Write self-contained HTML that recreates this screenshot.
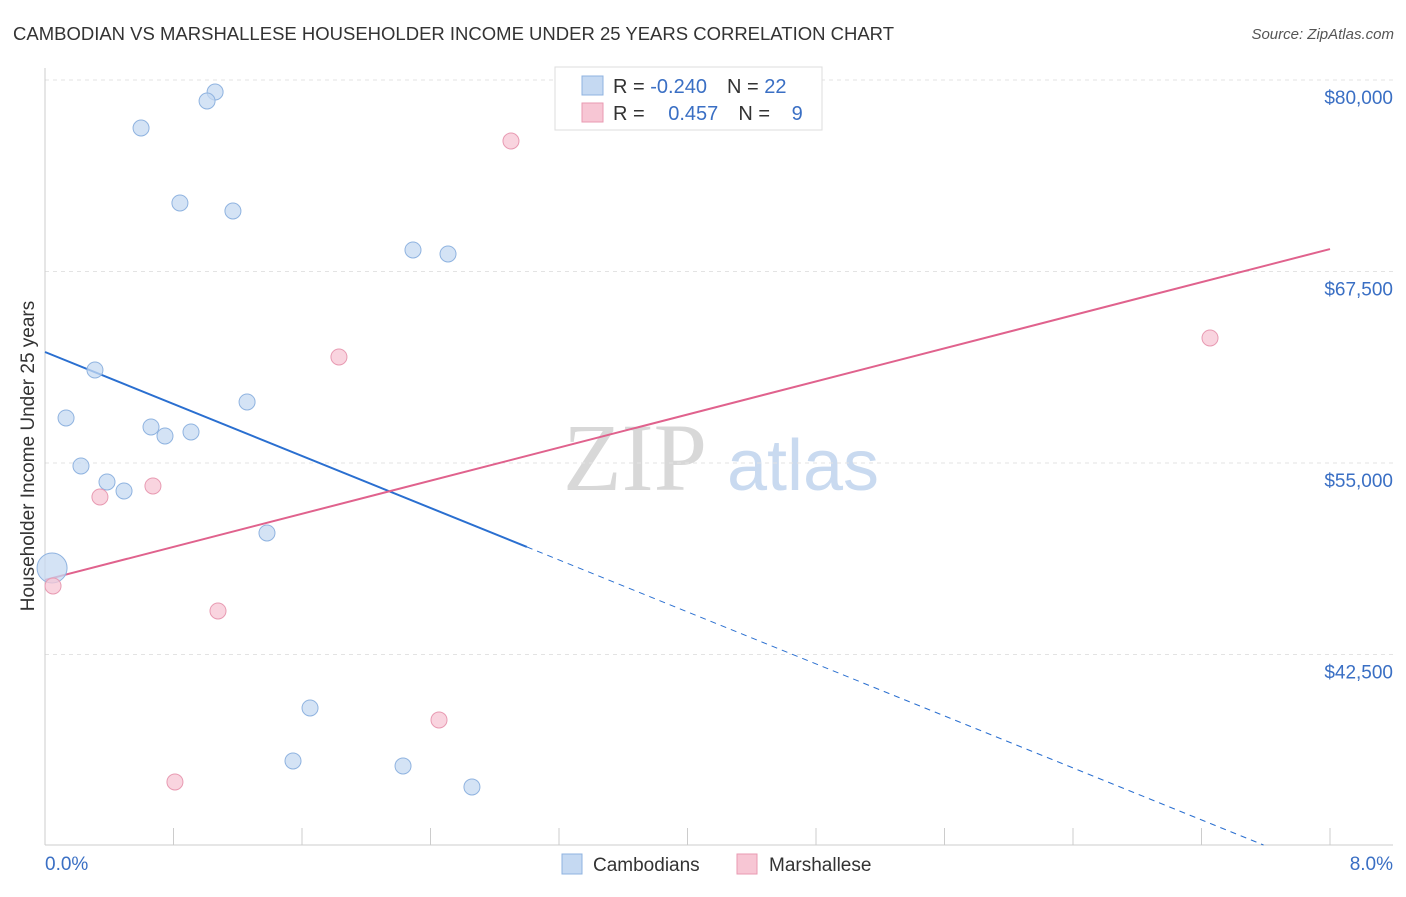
<!DOCTYPE html>
<html><head><meta charset="utf-8"><style>
body{margin:0;background:#fff;font-family:"Liberation Sans",sans-serif}
</style></head><body>
<svg width="1406" height="892" xmlns="http://www.w3.org/2000/svg" font-family="Liberation Sans, sans-serif">
<text x="13" y="40" font-size="18.5" fill="#333">CAMBODIAN VS MARSHALLESE HOUSEHOLDER INCOME UNDER 25 YEARS CORRELATION CHART</text>
<text x="1394" y="39" font-size="15" fill="#555" font-style="italic" text-anchor="end">Source: ZipAtlas.com</text>
<g>
<text x="635" y="490" font-size="96" fill="#d8d8d8" text-anchor="middle" font-family="Liberation Serif, serif">ZIP</text>
<text x="803" y="490" font-size="72" fill="#c9daf0" text-anchor="middle">atlas</text>
</g>
<g id="grid"></g><g id="axes"></g><g id="lines"></g><g id="pts"></g>
<text transform="translate(34,456) rotate(-90)" font-size="19" fill="#333" text-anchor="middle">Householder Income Under 25 years</text>
<text x="45" y="870" font-size="19" fill="#3a6fc4">0.0%</text>
<text x="1393" y="870" font-size="19" fill="#3a6fc4" text-anchor="end">8.0%</text>
<g>
<rect x="555" y="67" width="267" height="63" fill="#fff" stroke="#ddd"/>
<rect x="582" y="76" width="21" height="19" fill="#c5d9f2" stroke="#8fb3e0"/>
<rect x="582" y="103" width="21" height="19" fill="#f7c6d4" stroke="#e89ab2"/>
<text x="613" y="93" font-size="20" fill="#333">R = <tspan fill="#3a6fc4">-0.240</tspan><tspan dx="20">N = </tspan><tspan fill="#3a6fc4">22</tspan></text>
<text x="613" y="120" font-size="20" fill="#333">R = <tspan fill="#3a6fc4" dx="18">0.457</tspan><tspan dx="20">N = </tspan><tspan fill="#3a6fc4" dx="16">9</tspan></text>
</g>
<g>
<rect x="562" y="854" width="20" height="20" fill="#c5d9f2" stroke="#8fb3e0"/>
<text x="593" y="871" font-size="19" fill="#333">Cambodians</text>
<rect x="737" y="854" width="20" height="20" fill="#f7c6d4" stroke="#e89ab2"/>
<text x="769" y="871" font-size="19" fill="#333">Marshallese</text>
</g>
</svg>
<script>
const yTicks=[80000,67500,55000,42500];
const yTickLabels=["$80,000","$67,500","$55,000","$42,500"];
const xTicks=[0,0.8,1.6,2.4,3.2,4.0,4.8,5.6,6.4,7.2,8.0];
const cambX=[1.059,1.009,0.598,0.840,1.170,2.291,2.509,0.311,0.131,1.258,0.660,0.747,0.909,0.224,0.386,0.492,1.382,0.044,1.650,1.544,2.229,2.658];
const cambY=[79217,78629,76867,71972,71449,68904,68643,61072,57939,58983,57351,56764,57025,54806,53761,53174,50433,48149,39011,35552,35226,33855];
const cambR=[8,8,8,8,8,8,8,8,8,8,8,8,8,8,8,8,8,15,8,8,8,8];
const marX=[2.901,1.830,7.253,0.672,0.342,0.050,1.077,2.453,0.809];
const marY=[76018,61921,63161,53500,52782,46974,45342,38228,34181];
const cambTrend=[62246,-4242];
const marTrend=[47365,2700];
const cambSolidEnd=3.0;
const NS="http://www.w3.org/2000/svg";
const sx=v=>45+v/8*1285;
const sy=v=>80+(80000-v)/12500*191.5;
function mk(t,a,p){const e=document.createElementNS(NS,t);for(const k in a)e.setAttribute(k,a[k]);document.getElementById(p).appendChild(e);return e;}
yTicks.forEach((t,i)=>{
 const g=mk('line',{x1:45,x2:1393,y1:sy(t),y2:sy(t),stroke:'#e3e3e3','stroke-dasharray':'4,4'},'grid');
 
 
 const l=mk('text',{x:1393,y:sy(t)+24,'font-size':19,fill:'#3a6fc4','text-anchor':'end'},'grid');
 l.textContent=yTickLabels[i];
 
 
});
const ax=mk('line',{x1:45,x2:45,y1:68,y2:845,stroke:'#ccc'},'axes');


const bx=mk('line',{x1:45,x2:1393,y1:845,y2:845,stroke:'#ccc'},'axes');


xTicks.forEach(t=>{
 const k=mk('line',{x1:sx(t),x2:sx(t),y1:828,y2:845,stroke:'#ccc'},'axes');
 
 
});
const cy=x=>cambTrend[0]+cambTrend[1]*x;
const c1=mk('line',{x1:sx(0),y1:sy(cy(0)),x2:sx(cambSolidEnd),y2:sy(cy(cambSolidEnd)),stroke:'#2a6fd0','stroke-width':2},'lines');


const yBottom=80000-(845-80)/191.5*12500;
const xEnd=Math.min(8,(yBottom-cambTrend[0])/cambTrend[1]);
const c2=mk('line',{x1:sx(cambSolidEnd),y1:sy(cy(cambSolidEnd)),x2:sx(xEnd),y2:sy(cy(xEnd)),stroke:'#2a6fd0','stroke-width':1,'stroke-dasharray':'6,5'},'lines');


const my=x=>marTrend[0]+marTrend[1]*x;
const m1=mk('line',{x1:sx(0),y1:sy(my(0)),x2:sx(8),y2:sy(my(8)),stroke:'#e0628d','stroke-width':2},'lines');


cambX.forEach((x,i)=>{
 const c=mk('circle',{cx:sx(x),cy:sy(cambY[i]),r:cambR[i],fill:'#c5d9f2','fill-opacity':0.75,stroke:'#8fb3e0','stroke-width':1},'pts');
 
 
});
marX.forEach((x,i)=>{
 const c=mk('circle',{cx:sx(x),cy:sy(marY[i]),r:8,fill:'#f7c6d4','fill-opacity':0.75,stroke:'#e89ab2','stroke-width':1},'pts');
 
 
});
</script>
</body></html>
